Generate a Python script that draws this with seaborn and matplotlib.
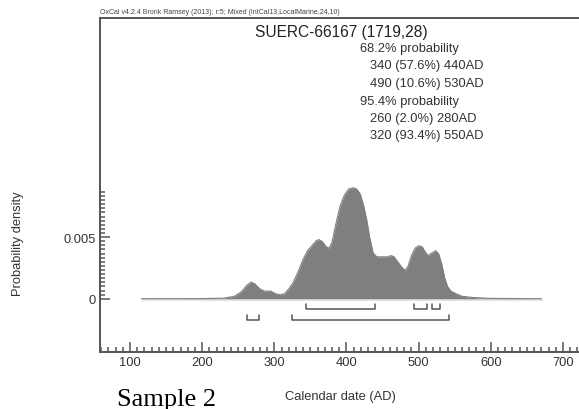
import numpy as np
import pandas as pd
import matplotlib
matplotlib.use('Agg')
import matplotlib.pyplot as plt
import seaborn as sns
from matplotlib.ticker import MultipleLocator, FixedLocator

# density curve (calendar year AD, probability density)
years = [116, 200, 230, 245, 255, 262, 268, 273, 280, 286, 295, 302, 308, 314, 320,
         326, 333, 340, 346, 352, 358, 362, 367, 372, 376, 380, 385, 391, 397, 403,
         409, 414, 419, 424, 428, 432, 437, 442, 450, 456, 462, 466, 471, 476, 481,
         485, 490, 495, 500, 505, 509, 513, 518, 524, 528, 532, 536, 540, 545, 552,
         560, 575, 600, 670]
density = [0, 0.00001, 0.00005, 0.0002, 0.0006, 0.0011, 0.00135, 0.0012, 0.0008, 0.00062,
           0.00062, 0.0004, 0.00032, 0.0004, 0.0008, 0.0013, 0.0022, 0.0032, 0.0039, 0.0043,
           0.0047, 0.0048, 0.0046, 0.0042, 0.0041, 0.0046, 0.0060, 0.0075, 0.0084, 0.0089,
           0.0090, 0.0089, 0.0085, 0.0075, 0.0064, 0.0050, 0.0037, 0.0034, 0.0034, 0.0034,
           0.0035, 0.0034, 0.0030, 0.0026, 0.0023, 0.0026, 0.0035, 0.0041, 0.0043, 0.0042,
           0.0038, 0.0035, 0.0037, 0.0039, 0.0036, 0.0028, 0.0017, 0.0010, 0.0006, 0.0004,
           0.0002, 0.0001, 0.00003, 0]

# highest posterior density ranges (as drawn)
hpd68_start = [344, 493, 519]
hpd68_end = [439, 511, 529]
hpd95_start = [262, 325]
hpd95_end = [279, 542]

sample_name = 'SUERC-66167 (1719,28)'
range_lines = ['68.2% probability', '340 (57.6%) 440AD', '490 (10.6%) 530AD',
               '95.4% probability', '260 (2.0%) 280AD', '320 (93.4%) 550AD']
header = 'OxCal v4.2.4 Bronk Ramsey (2013); r:5; Mixed (IntCal13,LocalMarine,24,10)'

sns.set_style('white')
plt.rcParams['font.family'] = ['Liberation Sans', 'DejaVu Sans']

W, H = 579, 410
fig = plt.figure(figsize=(W / 100, H / 100), dpi=100)
ax = fig.add_axes([100 / W, 1 - 353 / H, 1 - 100 / W, (353 - 19) / H])

df = pd.DataFrame({'year': years, 'density': density})
ax.plot([years[0], years[-1]], [0, 0], color='#e4e4e4', lw=2.2, zorder=1)
ax.fill_between(df['year'], 0, df['density'], color='#7f7f7f', lw=0, zorder=2)
sns.lineplot(data=df, x='year', y='density', color='#7f7f7f', lw=0.8, ax=ax, zorder=3)

# range brackets
ink = '#555555'
for starts, ends, lo, hi in [(hpd68_start, hpd68_end, -0.00087, -0.0004),
                             (hpd95_start, hpd95_end, -0.00176, -0.0013)]:
    for s, e in zip(starts, ends):
        ax.plot([s, s, e, e], [hi, lo, lo, hi], color=ink, lw=1.1, zorder=4)

ax.set_xlim(58.4, 722.2)
ax.set_ylim(-0.00432, 0.02277)
ax.set_xticks([100, 200, 300, 400, 500, 600, 700])
ax.xaxis.set_minor_locator(MultipleLocator(10))
ax.set_yticks([0, 0.005])
ax.set_yticklabels(['0', '0.005'])
ax.yaxis.set_minor_locator(FixedLocator(np.arange(0, 0.0088, 0.005 / 15)))
ax.tick_params(which='both', direction='in', colors=ink, labelcolor='#333333',
               labelsize=9.3, width=1.1)
ax.tick_params(which='major', length=7, pad=3)
ax.tick_params(which='minor', length=3.5)
ax.tick_params(axis='x', which='both', top=False, bottom=True)
ax.tick_params(axis='y', which='both', left=True, right=False)

for side in ['left', 'top', 'bottom']:
    ax.spines[side].set_color(ink)
    ax.spines[side].set_linewidth(1.4)
ax.spines['right'].set_visible(False)

ax.set_xlabel('Calendar date (AD)', fontsize=9.3, color='#333333')
ax.xaxis.set_label_coords(0.503, -0.132)
ax.set_ylabel('Probability density', fontsize=9.3, color='#333333')
ax.yaxis.set_label_coords(-0.171, 0.326)
ax.xaxis.label.set_va('center')
ax.yaxis.label.set_va('center')

def px(x, y):
    return x / W, 1 - y / H

fig.text(*px(100, 13), header, fontsize=5, color='#444444', va='center')
fig.text(*px(255, 33), sample_name, fontsize=11.2, color='#222222', va='center')
ys = [49, 66.5, 84, 101.5, 119, 136.5]
xs = [360, 370, 370, 360, 370, 370]
for t, x, y in zip(range_lines, xs, ys):
    fig.text(*px(x, y), t, fontsize=9.3, color='#333333', va='center')

fig.text(*px(117, 400), 'Sample 2', fontsize=19, family=['Liberation Serif', 'DejaVu Serif'],
         color='black', va='center')

fig.savefig('out.png', dpi=100)
plt.close(fig)
